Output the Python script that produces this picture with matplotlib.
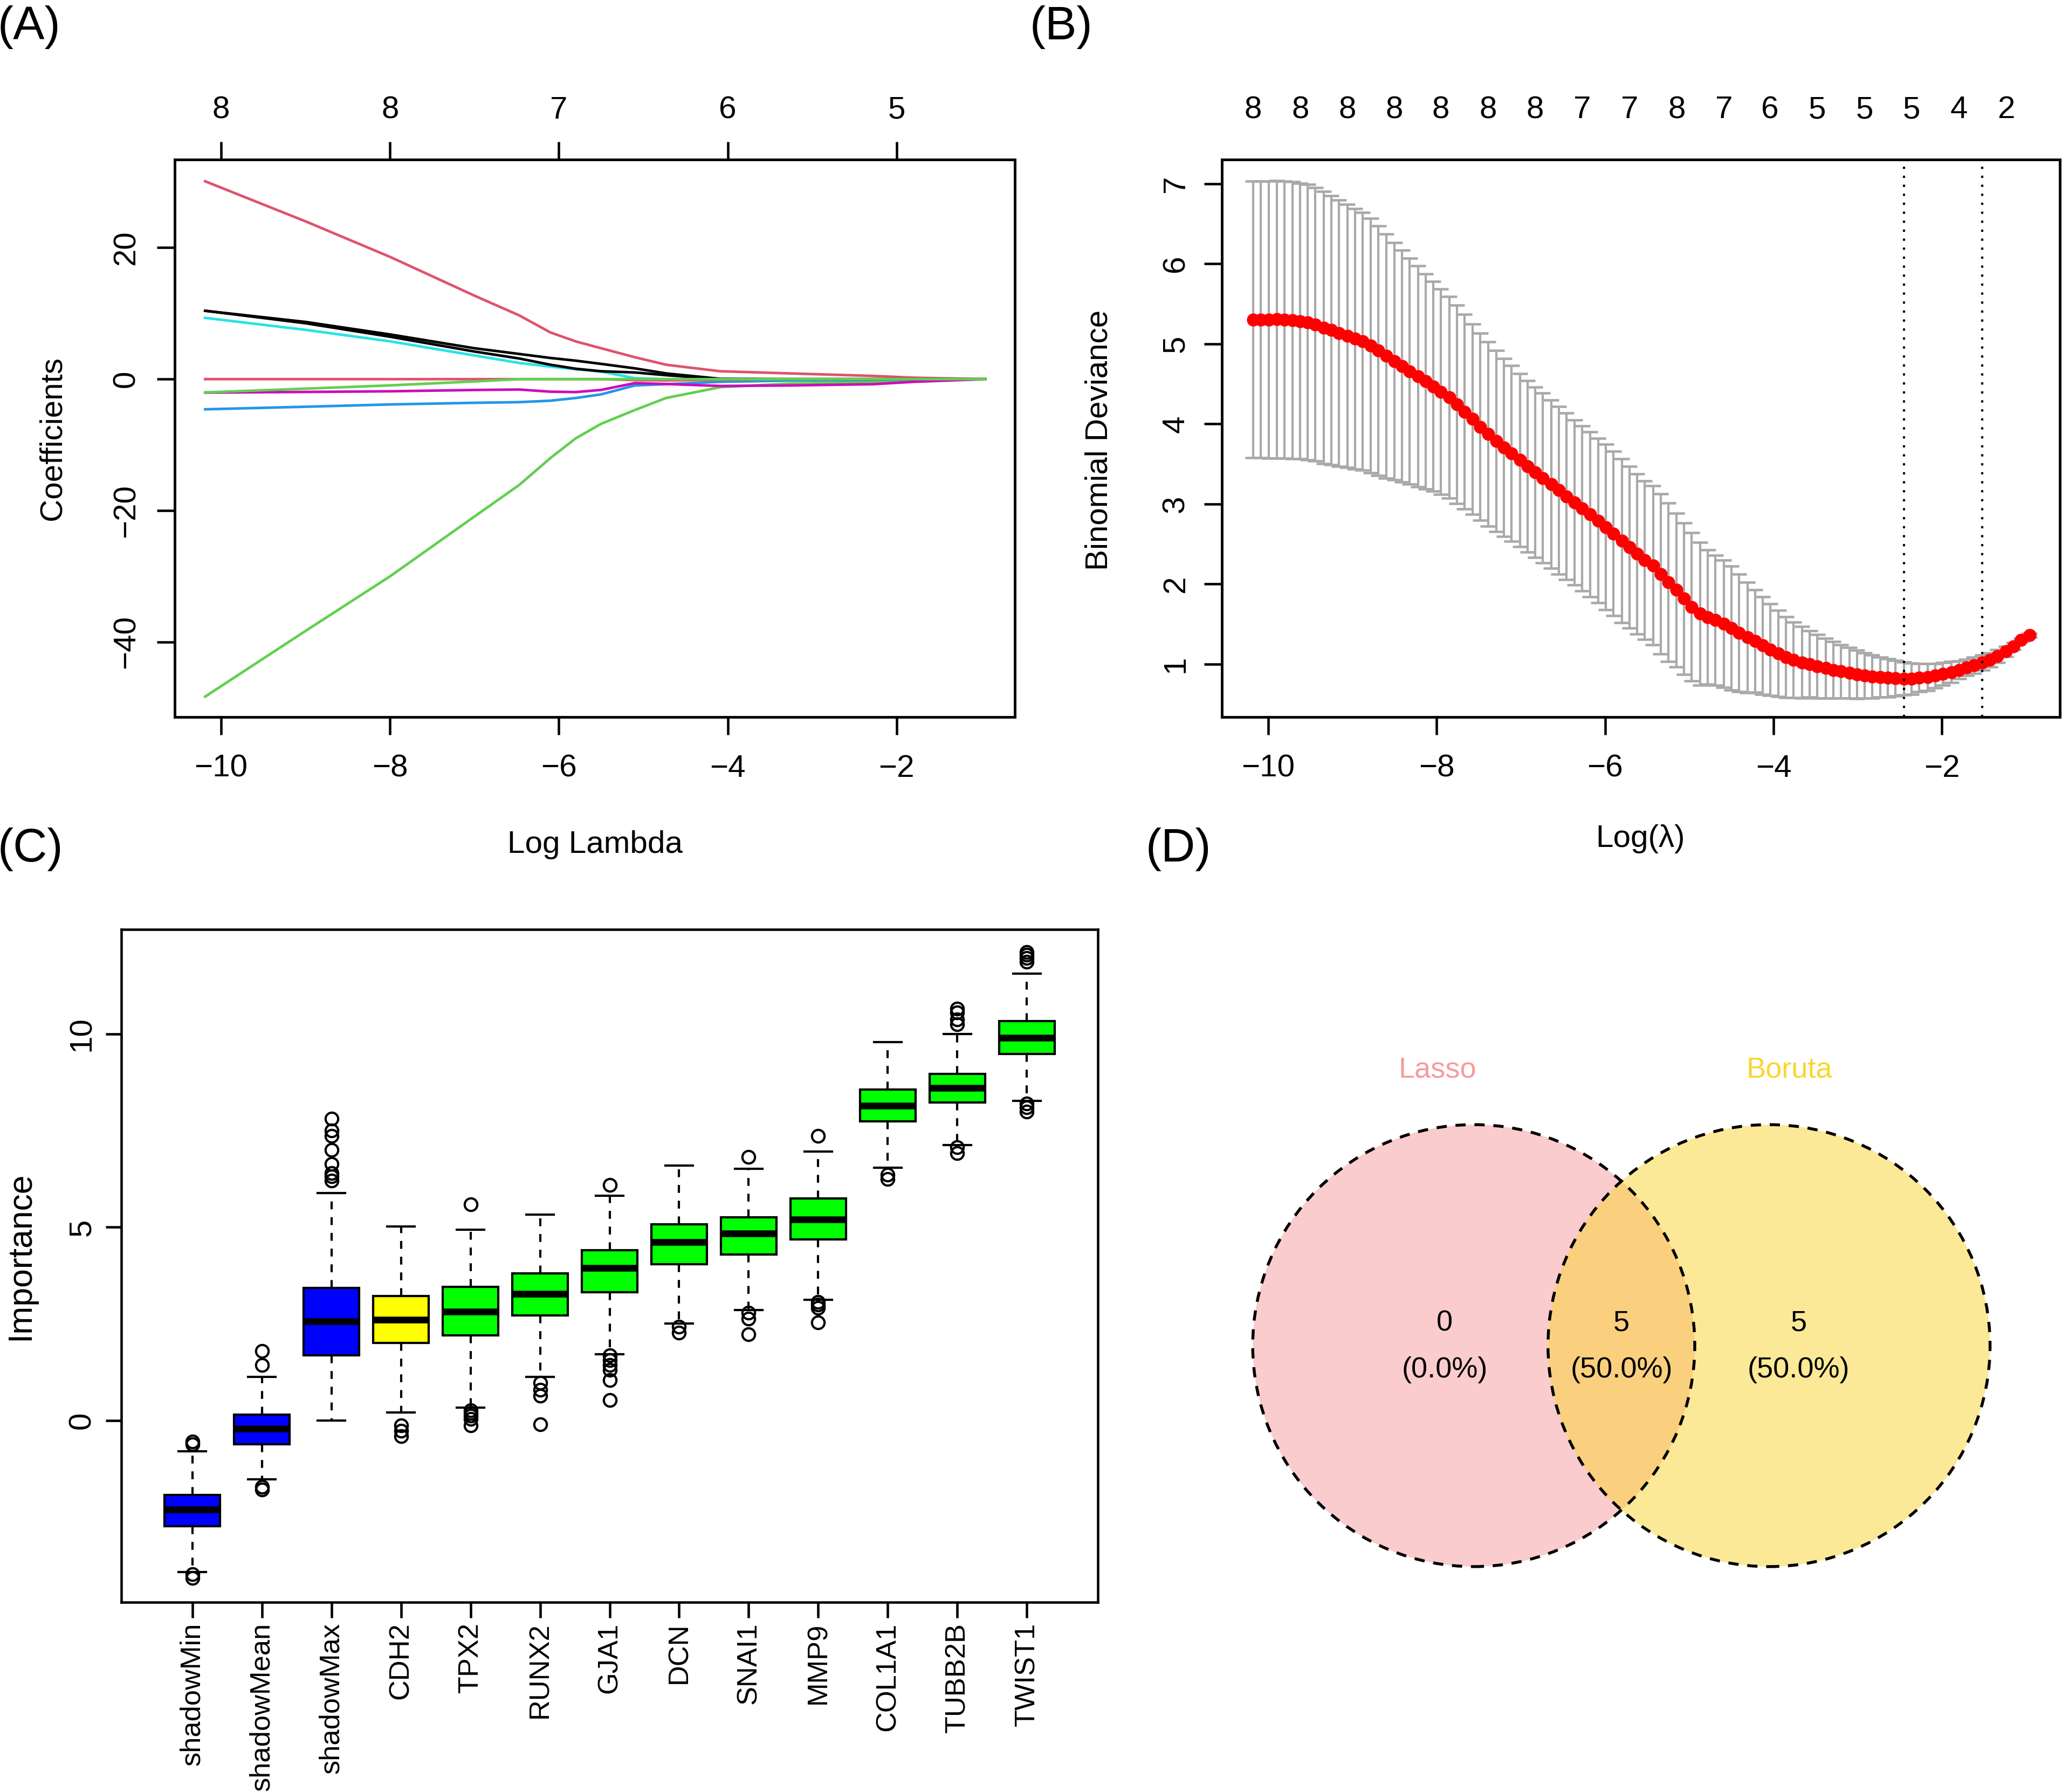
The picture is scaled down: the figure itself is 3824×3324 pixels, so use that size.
import numpy as np
import matplotlib
matplotlib.use("Agg")
import matplotlib.pyplot as plt
from matplotlib import font_manager
from matplotlib.patches import Circle

plt.rcParams['font.family'] = ['Liberation Sans', 'DejaVu Sans']

# ---------------- (A) lasso coefficient paths ----------------
path_x = [-10.19, -9.0, -8.0, -7.0, -6.47, -6.1, -5.8, -5.5, -5.1, -4.73, -4.09, -3.26, -2.28, -1.8, -0.95]
coef_black1 = [10.4, 8.7, 6.8, 4.7, 3.83, 3.22, 2.81, 2.32, 1.64, 0.87, 0.05, 0, 0, 0, 0]
coef_red1 = [30.1, 24.0, 18.6, 12.7, 9.7, 7.1, 5.74, 4.7, 3.33, 2.19, 1.2, 0.87, 0.49, 0.22, 0]
coef_green1 = [-48.3, -38.3, -30.0, -20.9, -16.1, -12.0, -9.0, -6.8, -4.7, -2.87, -1.23, -0.68, -0.41, -0.27, 0]
coef_blue = [-4.59, -4.2, -3.85, -3.6, -3.5, -3.28, -2.87, -2.32, -0.96, -0.77, -0.41, -0.22, -0.11, -0.05, 0]
coef_cyan = [9.32, 7.5, 5.75, 3.6, 2.46, 1.91, 1.5, 1.15, 0.14, 0, 0, 0, 0, 0, 0]
coef_magenta = [-2.05, -1.95, -1.85, -1.65, -1.58, -1.91, -1.97, -1.64, -0.6, -0.74, -1.04, -0.96, -0.77, -0.41, 0]
coef_black2 = [10.4, 8.5, 6.45, 4.2, 3.14, 2.19, 1.58, 1.2, 1.01, 0.6, 0.0, 0, 0, 0, 0]
coef_red2 = [0, 0, 0, 0, 0, 0, 0, 0, -0.15, -0.2, -0.1, 0, 0, 0, 0]
coef_green2 = [-2.02, -1.45, -0.95, -0.35, 0, 0, 0, 0, 0, 0, 0, 0, 0, 0, 0]
path_values = [coef_black1, coef_red1, coef_green1, coef_blue, coef_cyan,
               coef_magenta, coef_black2, coef_red2, coef_green2]
path_colors = ['black', '#DF536B', '#61D04F', '#2297E6', '#28E2E5',
               '#CD0BBC', 'black', '#DF536B', '#61D04F']
top_ticks_a = [-10, -8, -6, -4, -2]
top_labels_a = ['8', '8', '7', '6', '5']

# ---------------- (B) cross-validation curve ----------------
log_lambda = [-10.18, -10.09, -9.99, -9.90, -9.81, -9.71, -9.62, -9.53, -9.44, -9.34,
              -9.25, -9.16, -9.06, -8.97, -8.88, -8.78, -8.69, -8.60, -8.50, -8.41,
              -8.32, -8.22, -8.13, -8.04, -7.95, -7.85, -7.76, -7.67, -7.57, -7.48,
              -7.39, -7.29, -7.20, -7.11, -7.01, -6.92, -6.83, -6.74, -6.64, -6.55,
              -6.46, -6.36, -6.27, -6.18, -6.08, -5.99, -5.90, -5.80, -5.71, -5.62,
              -5.53, -5.43, -5.34, -5.25, -5.15, -5.06, -4.97, -4.87, -4.78, -4.69,
              -4.59, -4.50, -4.41, -4.31, -4.22, -4.13, -4.04, -3.94, -3.85, -3.76,
              -3.66, -3.57, -3.48, -3.38, -3.29, -3.20, -3.10, -3.01, -2.92, -2.83,
              -2.73, -2.64, -2.55, -2.45, -2.36, -2.27, -2.17, -2.08, -1.99, -1.89,
              -1.80, -1.71, -1.62, -1.52, -1.43, -1.34, -1.24, -1.15, -1.06, -0.96]
cv_mean = [5.302, 5.302, 5.300, 5.306, 5.300, 5.293, 5.284, 5.270, 5.243, 5.203,
           5.171, 5.135, 5.099, 5.063, 5.032, 4.977, 4.914, 4.847, 4.784, 4.721,
           4.658, 4.595, 4.532, 4.468, 4.401, 4.329, 4.243, 4.153, 4.059, 3.964,
           3.874, 3.788, 3.707, 3.631, 3.550, 3.473, 3.396, 3.324, 3.248, 3.171,
           3.095, 3.018, 2.946, 2.869, 2.793, 2.712, 2.631, 2.541, 2.459, 2.378,
           2.297, 2.234, 2.126, 2.023, 1.928, 1.820, 1.716, 1.631, 1.586, 1.550,
           1.505, 1.450, 1.392, 1.333, 1.288, 1.234, 1.180, 1.135, 1.090, 1.054,
           1.023, 1.000, 0.973, 0.950, 0.928, 0.910, 0.892, 0.874, 0.860, 0.847,
           0.838, 0.829, 0.824, 0.820, 0.820, 0.829, 0.838, 0.856, 0.878, 0.901,
           0.928, 0.959, 0.986, 1.018, 1.054, 1.099, 1.158, 1.225, 1.302, 1.360]
cv_sd = [1.727, 1.727, 1.730, 1.732, 1.732, 1.730, 1.723, 1.718, 1.709, 1.700,
         1.680, 1.662, 1.642, 1.624, 1.606, 1.586, 1.561, 1.523, 1.482, 1.448,
         1.412, 1.378, 1.342, 1.311, 1.282, 1.259, 1.239, 1.216, 1.191, 1.169,
         1.149, 1.131, 1.110, 1.095, 1.081, 1.070, 1.065, 1.059, 1.050, 1.045,
         1.038, 1.032, 1.032, 1.029, 1.029, 1.032, 1.027, 1.025, 1.009, 1.000,
         0.991, 0.995, 1.000, 0.991, 0.959, 0.946, 0.923, 0.892, 0.838, 0.811,
         0.797, 0.775, 0.734, 0.689, 0.640, 0.608, 0.572, 0.536, 0.505, 0.473,
         0.446, 0.414, 0.396, 0.374, 0.351, 0.333, 0.315, 0.302, 0.284, 0.270,
         0.252, 0.239, 0.221, 0.207, 0.194, 0.176, 0.167, 0.153, 0.140, 0.131,
         0.113, 0.104, 0.104, 0.095, 0.090, 0.081, 0.063, 0.045, 0.023, 0.023]
nzero_labels = ['8', '8', '8', '8', '8', '8', '8', '7', '7', '8', '7', '6', '5', '5', '5', '4', '2']
lambda_min = -2.45
lambda_1se = -1.52

# ---------------- (C) Boruta importance ----------------
genes = ['shadowMin', 'shadowMean', 'shadowMax', 'CDH2', 'TPX2', 'RUNX2', 'GJA1',
         'DCN', 'SNAI1', 'MMP9', 'COL1A1', 'TUBB2B', 'TWIST1']
imp_med = [-2.30, -0.21, 2.56, 2.60, 2.82, 3.28, 3.94, 4.61, 4.84, 5.20, 8.14, 8.60, 9.90]
imp_q1 = [-2.73, -0.61, 1.69, 2.01, 2.20, 2.72, 3.31, 4.04, 4.29, 4.68, 7.73, 8.22, 9.48]
imp_q3 = [-1.92, 0.15, 3.43, 3.22, 3.46, 3.80, 4.41, 5.08, 5.26, 5.74, 8.56, 8.97, 10.33]
imp_lo = [-3.92, -1.52, 0.00, 0.21, 0.34, 1.13, 1.72, 2.51, 2.85, 3.12, 6.54, 7.13, 8.26]
imp_hi = [-0.79, 1.13, 5.88, 5.02, 4.93, 5.33, 5.81, 6.60, 6.51, 6.95, 9.78, 10.00, 11.56]
imp_out = [[-0.55, -0.62, -3.97, -4.07],
           [1.80, 1.44, -1.71, -1.78],
           [7.80, 7.50, 7.36, 7.00, 6.64, 6.40, 6.32, 6.20],
           [-0.13, -0.27, -0.40],
           [5.59, 0.27, 0.19, 0.13, 0.04, -0.13],
           [0.98, 0.79, 0.64, -0.10],
           [6.09, 1.68, 1.56, 1.44, 1.31, 1.05, 0.53],
           [2.42, 2.27],
           [6.82, 2.79, 2.64, 2.23],
           [7.36, 3.06, 2.99, 2.91, 2.53],
           [6.36, 6.24],
           [10.65, 10.55, 10.37, 10.25, 7.07, 6.91],
           [12.11, 12.04, 11.96, 11.87, 8.19, 8.10, 7.99]]
gene_colors = ['#0000FF', '#0000FF', '#0000FF', '#FFFF00'] + ['#00FF00'] * 9

# ---------------- (D) Venn ----------------
set_names = ['Lasso', 'Boruta']
set_colors = ['#F79B9D', '#FBD531']
venn_counts = [0, 5, 5]   # Lasso only, both, Boruta only

W, H = 3824, 3324
fig = plt.figure(figsize=(W / 300, H / 300), dpi=300)

# the boxplot labels in the original look condensed
try:
    font_manager.findfont('Liberation Sans Narrow', fallback_to_default=False)
    label_family, label_size = ['Liberation Sans Narrow', 'DejaVu Sans'], 15.3
except ValueError:
    label_family, label_size = ['Liberation Sans', 'DejaVu Sans'], 12.6


def fx(px):
    return px / W


def fy(py):
    return 1 - py / H


def style(ax, fs, tlen, padx, pady):
    ax.tick_params(axis='both', direction='out', length=tlen, width=1.1,
                   labelsize=fs, colors='black')
    ax.tick_params(axis='x', pad=padx)
    ax.tick_params(axis='y', pad=pady)
    for lab in ax.get_yticklabels():
        lab.set_rotation(90)
        lab.set_va('center')
    for sp in ax.spines.values():
        sp.set_linewidth(1.1)


# panel A
axA = fig.add_axes([fx(324), fy(1330), fx(1882) - fx(324), fy(296) - fy(1330)])
for vals, col in zip(path_values, path_colors):
    axA.plot(path_x, vals, color=col, lw=1.15)
axA.set_xlim(-10.55, -0.60)
axA.set_ylim(-51.4, 33.4)
axA.set_xticks([-10, -8, -6, -4, -2])
axA.set_yticks([-40, -20, 0, 20])
style(axA, 14, 8, 8.5, 7)
axA_top = axA.twiny()
axA_top.set_xlim(axA.get_xlim())
axA_top.set_xticks(top_ticks_a)
axA_top.set_xticklabels(top_labels_a)
axA_top.tick_params(axis='x', direction='out', length=8, width=1.1, labelsize=14, pad=7.4)
for sp in axA_top.spines.values():
    sp.set_linewidth(1.1)

# panel B
axB = fig.add_axes([fx(2266), fy(1330), fx(3820) - fx(2266), fy(296) - fy(1330)])
cv_up = [m + s for m, s in zip(cv_mean, cv_sd)]
cv_lo = [m - s for m, s in zip(cv_mean, cv_sd)]
bar_half = 0.092
axB.vlines(log_lambda, cv_lo, cv_up, color='darkgrey', lw=1.0)
xl = [x - bar_half for x in log_lambda]
xr = [x + bar_half for x in log_lambda]
axB.hlines(cv_up, xl, xr, color='darkgrey', lw=1.1)
axB.hlines(cv_lo, xl, xr, color='darkgrey', lw=1.1)
axB.plot(log_lambda, cv_mean, 'o', color='red', ms=4.8, mec='red', zorder=3)
for xv in (lambda_min, lambda_1se):
    axB.axvline(xv, color='black', lw=1.0, ls=(0, (1, 3)), zorder=4)
axB.set_xlim(-10.55, -0.60)
axB.set_ylim(0.34, 7.30)
axB.set_xticks([-10, -8, -6, -4, -2])
axB.set_yticks([1, 2, 3, 4, 5, 6, 7])
style(axB, 14, 8, 8.5, 6)
axB_top = axB.twiny()
axB_top.set_xlim(axB.get_xlim())
axB_top.set_xticks(log_lambda[::6])
axB_top.set_xticklabels(nzero_labels)
axB_top.tick_params(axis='x', length=0, labelsize=14, pad=15.6)
for sp in axB_top.spines.values():
    sp.set_linewidth(1.1)

# panel C
axC = fig.add_axes([fx(225), fy(2972), fx(2036) - fx(225), fy(1724) - fy(2972)])
stats = []
for i, name in enumerate(genes):
    stats.append(dict(label=name, med=imp_med[i], q1=imp_q1[i], q3=imp_q3[i],
                      whislo=imp_lo[i], whishi=imp_hi[i], fliers=imp_out[i]))
positions = list(range(1, len(genes) + 1))
bp = axC.bxp(stats, positions=positions, widths=0.8, capwidths=0.4, patch_artist=True,
             boxprops=dict(edgecolor='black', linewidth=1.0),
             medianprops=dict(color='black', linewidth=3.0, solid_capstyle='butt'),
             whiskerprops=dict(color='black', linewidth=1.0, linestyle=(0, (3.5, 3.5))),
             capprops=dict(color='black', linewidth=1.0),
             flierprops=dict(marker='o', markerfacecolor='none', markeredgecolor='black',
                             markersize=5.6, markeredgewidth=1.0))
for patch, col in zip(bp['boxes'], gene_colors):
    patch.set_facecolor(col)
axC.set_xlim(-0.02, 14.02)
axC.set_ylim(-4.70, 12.70)
axC.set_yticks([0, 5, 10])
axC.set_xticks(positions)
style(axC, 14, 7, 2, 4)
axC.set_xticklabels(genes, rotation=90, va='top', ha='center',
                    family=label_family, fontsize=label_size)
for lab in axC.get_yticklabels():
    lab.set_family(label_family)
    lab.set_fontsize(label_size if label_size > 14 else 14)

# panel D
axD = fig.add_axes([fx(2100), 0, fx(3824) - fx(2100), 1524 / H])
axD.set_xlim(-2.212, 1.993)
axD.set_ylim(-2.020, 1.698)
axD.set_aspect('equal')
axD.axis('off')
centers = [-0.668, 0.668]
for cx, col in zip(centers, set_colors):
    axD.add_patch(Circle((cx, 0), 1.0, facecolor=col, alpha=0.5, edgecolor='none'))
for cx in centers:
    axD.add_patch(Circle((cx, 0), 1.0, facecolor='none', edgecolor='black',
                         lw=1.3, ls=(0, (3.5, 3.0))))
axD.text(-0.832, 1.249, set_names[0], color=set_colors[0], fontsize=13, ha='center', va='center')
axD.text(0.759, 1.249, set_names[1], color=set_colors[1], fontsize=13, ha='center', va='center')
total = sum(venn_counts)
for xv, n in zip([-0.80, 0.0, 0.802], venn_counts):
    axD.text(xv, 0.102, f"{n}", fontsize=13, ha='center', va='center')
    axD.text(xv, -0.11, f"({n / total * 100:.1f}%)", fontsize=13, ha='center', va='center')

# axis titles and panel letters
fig.text(fx(1103), fy(1582), 'Log Lambda', fontsize=14, ha='center', va='baseline')
fig.text(fx(98), fy(813), 'Coefficients', fontsize=14, ha='center', va='center', rotation=90)
fig.text(fx(3042), fy(1571), 'Log(λ)', fontsize=14, ha='center', va='baseline')
fig.text(fx(2039), fy(816), 'Binomial Deviance', fontsize=14, ha='center', va='center', rotation=90)
fig.text(fx(38), fy(2330), 'Importance', fontsize=15, ha='center', va='center', rotation=90)
for lab, px, py in [('(A)', -4, 10), ('(B)', 1910, 10), ('(C)', -4, 1535), ('(D)', 2125, 1535)]:
    fig.text(fx(px), fy(py), lab, fontsize=21, ha='left', va='top')

fig.savefig('out.png', dpi=300)
